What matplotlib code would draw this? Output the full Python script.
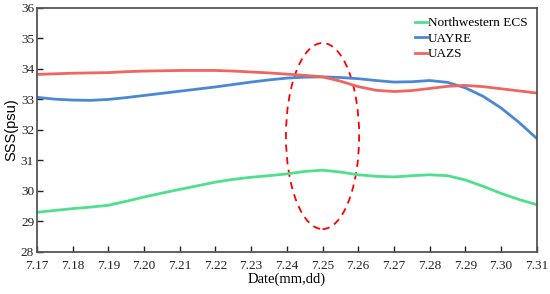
"""
SSS along three regions, 7.17 - 7.31
"""

import matplotlib
matplotlib.use("Agg")
import matplotlib.pyplot as plt
from matplotlib.patches import Ellipse
import numpy as np

days = np.arange(17, 31.01, 0.5)
tick_days = list(range(17, 32))
tick_labels = [f"7.{d}" for d in tick_days]

uazs = [33.82, 33.84, 33.86, 33.87, 33.88, 33.91, 33.93, 33.94, 33.95, 33.95,
        33.95, 33.93, 33.90, 33.87, 33.83, 33.79, 33.74, 33.60, 33.42, 33.30,
        33.26, 33.29, 33.36, 33.43, 33.46, 33.42, 33.35, 33.28, 33.21]
uayre = [33.07, 33.01, 32.98, 32.97, 33.00, 33.06, 33.13, 33.20, 33.27, 33.34,
         33.41, 33.49, 33.57, 33.64, 33.70, 33.73, 33.74, 33.72, 33.68, 33.62,
         33.57, 33.58, 33.62, 33.56, 33.38, 33.10, 32.72, 32.25, 31.72]
nw_ecs = [29.30, 29.36, 29.42, 29.47, 29.53, 29.66, 29.80, 29.93, 30.05, 30.17,
          30.29, 30.38, 30.45, 30.50, 30.56, 30.64, 30.68, 30.62, 30.53, 30.48,
          30.46, 30.50, 30.53, 30.50, 30.36, 30.15, 29.92, 29.72, 29.55]

plt.rcParams['font.family'] = ['Liberation Serif', 'DejaVu Serif']

fig = plt.figure(figsize=(5.5, 2.94), dpi=100)
ax = fig.add_axes([0.067, 0.143, 0.909, 0.830])

ax.plot(days, nw_ecs, color='#4ee08c', linewidth=2.0, label='Northwestern ECS')
ax.plot(days, uayre, color='#4a88d6', linewidth=2.0, label='UAYRE')
ax.plot(days, uazs, color='#f0665e', linewidth=2.0, label='UAZS')

ax.add_patch(Ellipse((25, 31.8), 2.05, 6.1, fill=False, edgecolor='red',
                     linestyle=(0, (4, 3)), linewidth=1.3))

ax.set_xlim(17, 31)
ax.set_ylim(28, 36)
ax.set_xticks(tick_days)
ax.set_xticklabels(tick_labels)
ax.set_yticks(range(28, 37))
ax.tick_params(direction='in', length=4, width=1, labelsize=9.5, colors='#222222',
               pad=2)
ax.tick_params(axis='x', pad=6)
for s in ax.spines.values():
    s.set_color('#555555')
    s.set_linewidth(1.3)

ax.set_xlabel('Date(mm,dd)', fontsize=10.5, labelpad=0)
ax.set_ylabel('SSS(psu)', fontsize=10.5, family=['Liberation Sans'], labelpad=2)

ax.legend(loc='upper right', frameon=False, fontsize=9.5, handlelength=0.9,
          handletextpad=0.1, labelspacing=0.25, borderaxespad=0.3)

fig.savefig('out.png', dpi=100)
